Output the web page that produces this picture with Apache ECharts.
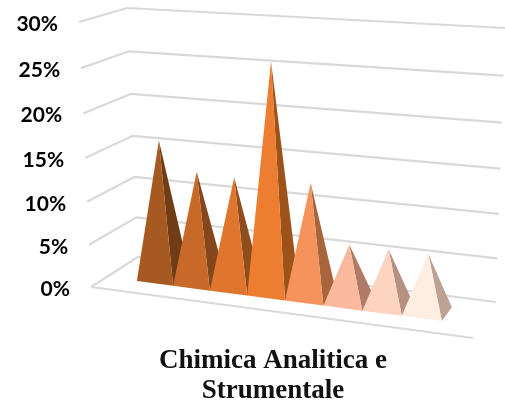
<!DOCTYPE html>
<html><head><meta charset="utf-8">
<style>html,body{margin:0;padding:0;background:#fff}#c{width:505px;height:404px}</style>
<script src="https://cdn.jsdelivr.net/npm/echarts@6/dist/echarts.min.js"></script>
</head><body><div id="c"></div>
<script>
const chartTitle = 'Chimica Analitica e\nStrumentale';
const categories = ['1','2','3','4','5','6','7','8'];
const values = [0.162, 0.13, 0.128, 0.26, 0.13, 0.065, 0.065, 0.065];
const tickValues = [0, 0.05, 0.10, 0.15, 0.20, 0.25, 0.30];
const tickLabels = ['0%','5%','10%','15%','20%','25%','30%'];
const faceColors = ['#A65A22','#C8692A','#E0752E','#ED7D31','#F6935C','#FAB89C','#FCD4C0','#FEEEE1'];
const sideColors = ['#6F3C16','#84461A','#8F4D1C','#9C5218','#A8643A','#B07B66','#B69182','#BDA294'];

// View of the flat plot into the tilted 3D box
const G = {left:91, top:22, width:382, height:265};
const C = {
  flb:[91,287], flt:[79,22], blb:[138,257], blt:[127,8],
  frb:[473,338], frt:[483,46], brb:[496,302], brt:[505,28]
};
const lerp=(a,b,t)=>[a[0]+(b[0]-a[0])*t,a[1]+(b[1]-a[1])*t];
function project(p,d){
  let u=(p[0]-G.left)/G.width, t=(G.top+G.height-p[1])/G.height;
  u=u-0.07*u*(1-u);
  t=0.947*t+0.053*t*t;
  const fl=lerp(C.flb,C.flt,t), fr=lerp(C.frb,C.frt,t), bl=lerp(C.blb,C.blt,t), br=lerp(C.brb,C.brt,t);
  return lerp(lerp(fl,bl,d),lerp(fr,br,d),u);
}
const D0=0.33, D1=0.72, DM=(D0+D1)/2;
const XMIN=-1.351, XMAX=8.455;

function renderPyramid(params,api){
  const i=api.value(0), v=api.value(1);
  const L=api.coord([i-0.5,0]), R=api.coord([i+0.5,0]), A=api.coord([i,v]);
  const fl=project(L,D0), fr=project(R,D0), br=project(R,D1), ap=project(A,DM);
  return {type:'group',silent:true,children:[
    {type:'polygon',shape:{points:[fr,br,ap]},style:{fill:sideColors[i]}},
    {type:'polygon',shape:{points:[fl,fr,ap]},style:{fill:faceColors[i]}}
  ]};
}
function renderGrid(params,api){
  const v=api.value(0);
  const a=api.coord([XMIN,v]), b=api.coord([XMAX,v]);
  const pts=[project(a,0),project(a,1),project(b,1)];
  const kids=[{type:'polyline',shape:{points:pts},style:{fill:'none',stroke:'#D9D9D9',lineWidth:2.2}}];
  if(v===0) kids.push({type:'line',shape:{x1:pts[0][0],y1:pts[0][1],x2:project(b,0)[0],y2:project(b,0)[1]},style:{stroke:'#D9D9D9',lineWidth:2.2}});
  return {type:'group',silent:true,children:kids};
}
function renderLabel(params,api){
  const v=api.value(0);
  const p=project(api.coord([XMIN,v]),0);
  return {type:'text',silent:true,style:{x:p[0]-21,y:p[1]+2,text:tickLabels[params.dataIndex],align:'right',verticalAlign:'middle',
    font:'bold 21px Lato',fill:'#000'}};
}
const chart=echarts.init(document.getElementById('c'),null,{renderer:'canvas'});
chart.setOption({
  animation:false,
  backgroundColor:'#fff',
  title:{text:chartTitle,left:268,top:341,textAlign:'center',
    textStyle:{fontFamily:'Liberation Serif',fontWeight:'bold',fontSize:27,lineHeight:30,color:'#111'}},
  grid:{left:G.left,top:G.top,width:G.width,height:G.height},
  xAxis:{type:'value',min:XMIN,max:XMAX,show:false},
  yAxis:{type:'value',min:0,max:0.3,interval:0.05,show:false},
  series:[
    {type:'custom',coordinateSystem:'cartesian2d',clip:false,renderItem:renderGrid,data:tickValues.map(v=>[v]),encode:{x:[],y:0},z:1},
    {type:'custom',coordinateSystem:'cartesian2d',clip:false,renderItem:renderLabel,data:tickValues.map(v=>[v]),encode:{x:[],y:0},z:2},
    {type:'custom',coordinateSystem:'cartesian2d',clip:false,renderItem:renderPyramid,data:values.map((v,i)=>[i,v,categories[i]]),encode:{x:0,y:1},z:3}
  ]
});
</script></body></html>
